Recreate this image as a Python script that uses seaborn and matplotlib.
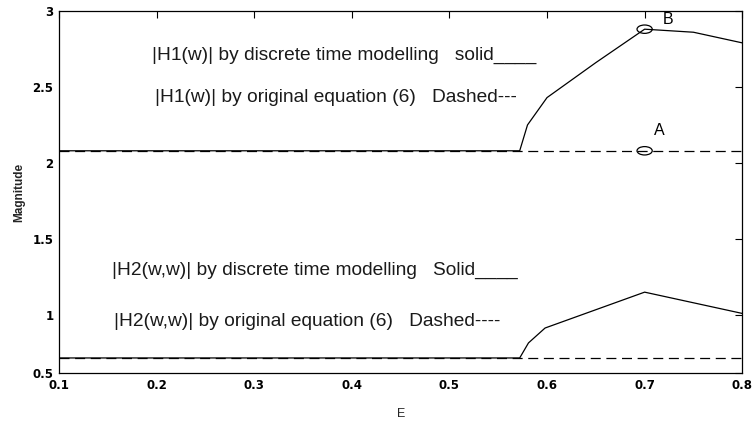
import matplotlib
matplotlib.use("Agg")
import matplotlib.pyplot as plt
from matplotlib.path import Path
from matplotlib.transforms import Affine2D
import seaborn as sns
import pandas as pd

# Data
h1_solid_x = [0.1, 0.572, 0.58, 0.60, 0.65, 0.70, 0.75, 0.80]
h1_solid_y = [2.08, 2.08, 2.25, 2.43, 2.66, 2.88, 2.86, 2.79]
h1_dash_x = [0.1, 0.8]
h1_dash_y = [2.08, 2.08]

h2_solid_x = [0.1, 0.572, 0.581, 0.598, 0.70, 0.80]
h2_solid_y = [0.717, 0.717, 0.816, 0.914, 1.15, 1.01]
h2_dash_x = [0.1, 0.8]
h2_dash_y = [0.717, 0.717]

marker_x = [0.7, 0.7]
marker_y = [2.08, 2.88]
marker_labels = ["A", "B"]

xticks = [0.1, 0.2, 0.3, 0.4, 0.5, 0.6, 0.7, 0.8]
xticklabels = ["0.1", "0.2", "0.3", "0.4", "0.5", "0.6", "0.7", "0.8"]
ymin = 0.618
yticks = [ymin, 1, 1.5, 2, 2.5, 3]
yticklabels = ["0.5", "1", "1.5", "2", "2.5", "3"]

sns.set_theme(style="white")
plt.rcParams['font.family'] = ['Liberation Sans', 'DejaVu Sans']

fig = plt.figure(figsize=(7.52, 4.21), dpi=100)
ax = fig.add_axes([0.0785, 0.114, 0.9085, 0.86])

df_dash = pd.concat([
    pd.DataFrame({"x": h1_dash_x, "y": h1_dash_y, "s": "h1d"}),
    pd.DataFrame({"x": h2_dash_x, "y": h2_dash_y, "s": "h2d"}),
])
for key, sub in df_dash.groupby("s"):
    sns.lineplot(data=sub, x="x", y="y", ax=ax, color="black", lw=0.9,
                 linestyle=(0, (8, 4.5)), estimator=None, sort=False)

df_solid = pd.concat([
    pd.DataFrame({"x": h1_solid_x, "y": h1_solid_y, "s": "h1"}),
    pd.DataFrame({"x": h2_solid_x, "y": h2_solid_y, "s": "h2"}),
])
for key, sub in df_solid.groupby("s"):
    sns.lineplot(data=sub, x="x", y="y", ax=ax, color="black", lw=0.9,
                 estimator=None, sort=False)

ellipse = Path.unit_circle().transformed(Affine2D().scale(1.0, 0.55))
sns.scatterplot(x=marker_x, y=marker_y, ax=ax, marker=ellipse, s=120,
                facecolor="none", edgecolor="black", linewidth=0.9, zorder=5)
for mx, my, lab in zip(marker_x, marker_y, marker_labels):
    off = (7, 9) if lab == "A" else (13, 1.5)
    ax.annotate(lab, (mx, my), xytext=off, textcoords="offset points",
                fontsize=11.5, color="black", va="bottom", ha="left")

fs = 13.8
def px(x, y):
    return ((x - 59) / 683.0, (373 - y) / 362.0)

for (x, y), s in [((152, 55), "|H1(w)| by discrete time modelling   solid____"),
                  ((155, 98), "|H1(w)| by original equation (6)   Dashed---"),
                  ((112, 270), "|H2(w,w)| by discrete time modelling   Solid____"),
                  ((114, 322), "|H2(w,w)| by original equation (6)   Dashed----")]:
    ax.text(*px(x, y), s, transform=ax.transAxes, fontsize=fs, va="center",
            color="#1a1a1a")

ax.set_xlim(0.1, 0.8)
ax.set_ylim(ymin, 3)
ax.set_xticks(xticks)
ax.set_xticklabels(xticklabels, fontsize=8.5, fontweight="bold",
                   family=["DejaVu Sans"])
ax.set_yticks(yticks)
ax.set_yticklabels(yticklabels, fontsize=8.5, fontweight="bold",
                   family=["DejaVu Sans"])
ax.tick_params(direction="in", top=True, right=True, length=5, width=0.8,
               pad=4, colors="black")
for sp in ax.spines.values():
    sp.set_color("black")
    sp.set_linewidth(0.9)
ax.set_xlabel("E", fontsize=9, labelpad=12)
ax.set_ylabel("Magnitude", fontsize=8.5, fontweight="bold", labelpad=5)

fig.savefig("out.png", dpi=100)
